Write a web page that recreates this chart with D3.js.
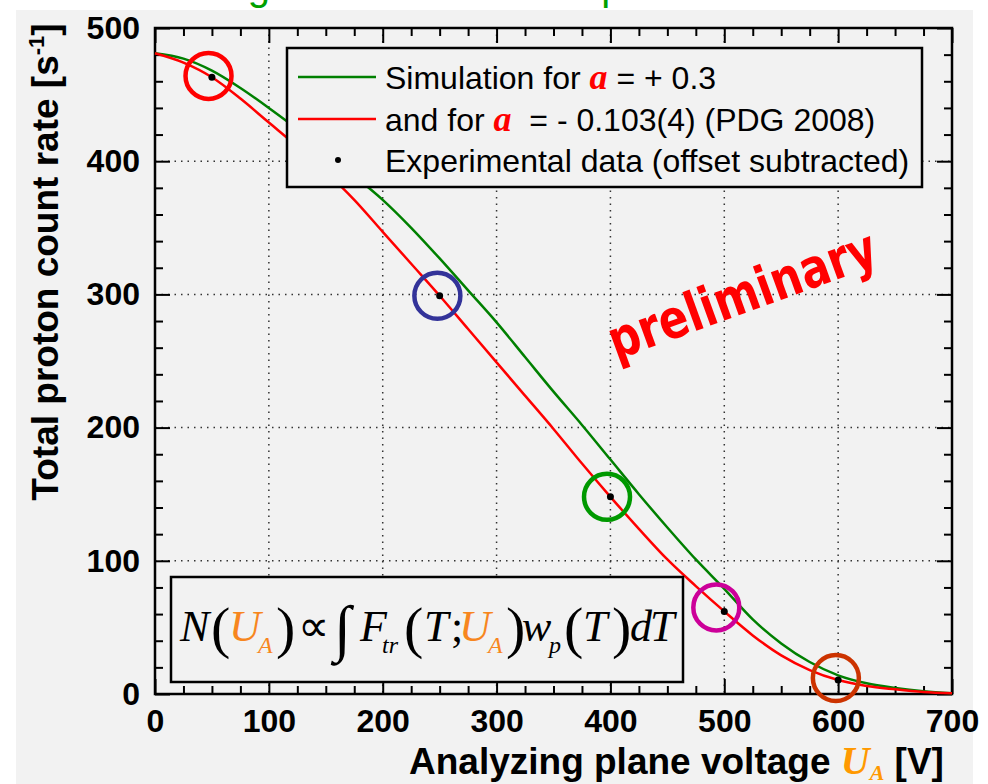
<!DOCTYPE html>
<html><head><meta charset="utf-8">
<script src="https://cdn.jsdelivr.net/npm/d3@7"></script>
<style>
html,body{margin:0;padding:0;background:#fff;}
text{white-space:pre;}
</style></head>
<body>
<svg id="chart" width="988" height="784"></svg>
<script>
// ---- data ----
const voltage = [0,25,50,75,100,125,150,175,200,225,250,275,300,325,350,375,400,425,450,475,500,525,550,575,600,625,650,675,700];
const simPlus03 = [481,477,468,455,440,424,406,389,371,350,327,303,279,253,227,202,176,150,125,101,79,56,38,24,14,8,4.5,2,0.5];
const simPDG = [481,474,463,447,429,411,392,371,347,323,299,274,249,224,199,173,148,124,101,81,62,44,29,18,10.5,6,3.5,1.5,0.5];
const dataU = [50,250,400,500,600];
const dataRate = [463,299,148,62,10.5];
const markU = [47,248,397,493,598];
const markRate = [464,299,148,65,12];
const markColors = ["#ff0000","#333399","#009900","#cc0099","#cc3300"];
const xTickValues = [0,100,200,300,400,500,600,700];
const yTickValues = [0,100,200,300,400,500];
const legendLabels = ["Simulation for ", "and for ", "Experimental data (offset subtracted)"];
const legendSuffix = [" = + 0.3", "  = - 0.103(4) (PDG 2008)", ""];

const svg = d3.select("#chart");
const L = 155, R = 952, T = 28, B = 694;
const x = d3.scaleLinear().domain([0,700]).range([L,R]);
const y = d3.scaleLinear().domain([0,500]).range([B,T]);

// title remnant (only the descenders show above the panel)
svg.append("text").attr("x",181).attr("y",0)
  .attr("font-family","Liberation Sans, Arial, sans-serif").attr("font-size",40)
  .attr("fill","#00a000").text("Integral measurement spectrum");

svg.append("rect").attr("x",16).attr("y",10).attr("width",957).attr("height",774).attr("fill","#f2f2f2");

// grid
const grid = svg.append("g").attr("stroke","#333").attr("stroke-width",1.5).attr("stroke-dasharray","1.5,5");
grid.selectAll("line.v").data(xTickValues.filter(d=>d>0&&d<700)).join("line")
  .attr("x1",d=>x(d)).attr("x2",d=>x(d)).attr("y1",T).attr("y2",B);
grid.selectAll("line.h").data(yTickValues.filter(d=>d>0&&d<500)).join("line")
  .attr("x1",L).attr("x2",R).attr("y1",d=>y(d)).attr("y2",d=>y(d));

// axes
const minorX = d3.range(0,701,25).filter(d=>d%100!==0);
const minorY = d3.range(0,501,20).filter(d=>d%100!==0);
function styleAxis(g){ g.selectAll(".domain").remove(); g.selectAll("line").attr("stroke","#000").attr("stroke-width",2); }
const fontT = "Liberation Sans, Arial, sans-serif";

svg.append("g").attr("transform",`translate(0,${B})`)
  .call(d3.axisBottom(x).tickValues(xTickValues).tickSize(-15).tickPadding(15).tickFormat(d3.format("d")))
  .call(styleAxis)
  .call(g=>g.selectAll("text").attr("font-family",fontT).attr("font-size",32).attr("font-weight","bold").attr("fill","#000"));
svg.append("g").attr("transform",`translate(0,${B})`).call(d3.axisBottom(x).tickValues(minorX).tickSize(-8).tickFormat("")).call(styleAxis);
svg.append("g").attr("transform",`translate(0,${T})`).call(d3.axisTop(x).tickValues(xTickValues).tickSize(-15).tickFormat("")).call(styleAxis);
svg.append("g").attr("transform",`translate(0,${T})`).call(d3.axisTop(x).tickValues(minorX).tickSize(-8).tickFormat("")).call(styleAxis);

svg.append("g").attr("transform",`translate(${L},0)`)
  .call(d3.axisLeft(y).tickValues(yTickValues).tickSize(-15).tickPadding(15).tickFormat(d3.format("d")))
  .call(styleAxis)
  .call(g=>g.selectAll("text").attr("font-family",fontT).attr("font-size",32).attr("font-weight","bold").attr("fill","#000"));
svg.append("g").attr("transform",`translate(${L},0)`).call(d3.axisLeft(y).tickValues(minorY).tickSize(-8).tickFormat("")).call(styleAxis);
svg.append("g").attr("transform",`translate(${R},0)`).call(d3.axisRight(y).tickValues(yTickValues).tickSize(-15).tickFormat("")).call(styleAxis);
svg.append("g").attr("transform",`translate(${R},0)`).call(d3.axisRight(y).tickValues(minorY).tickSize(-8).tickFormat("")).call(styleAxis);

// frame
svg.append("rect").attr("x",L).attr("y",T).attr("width",R-L).attr("height",B-T)
  .attr("fill","none").attr("stroke","#000").attr("stroke-width",2.5);

// curves
const line = d3.line().x((d,i)=>x(voltage[i])).y(d=>y(d)).curve(d3.curveMonotoneX);
svg.append("path").attr("d",line(simPlus03)).attr("fill","none").attr("stroke","#008000").attr("stroke-width",2.5);
svg.append("path").attr("d",line(simPDG)).attr("fill","none").attr("stroke","#ff0000").attr("stroke-width",2.5);

// markers
svg.selectAll("circle.mk").data(markU).join("circle")
  .attr("cx",d=>x(d)).attr("cy",(d,i)=>y(markRate[i])).attr("r",23)
  .attr("fill","none").attr("stroke",(d,i)=>markColors[i]).attr("stroke-width",4.5);
svg.selectAll("circle.pt").data(dataU).join("circle")
  .attr("cx",d=>x(d)).attr("cy",(d,i)=>y(dataRate[i])).attr("r",3.5).attr("fill","#000");

// preliminary
svg.append("text").attr("transform","translate(616,360) rotate(-20)")
  .attr("font-family","DejaVu Sans, sans-serif").attr("font-weight","bold").attr("font-size",54)
  .attr("fill","#ff0000").attr("textLength",282).attr("lengthAdjust","spacingAndGlyphs").text("preliminary");

// legend
svg.append("rect").attr("x",287).attr("y",48).attr("width",635).attr("height",139)
  .attr("fill","#f2f2f2").attr("stroke","#000").attr("stroke-width",2.5);
const rowY = [77,119,160];
svg.append("line").attr("x1",298).attr("x2",376).attr("y1",rowY[0]).attr("y2",rowY[0]).attr("stroke","#008000").attr("stroke-width",2.5);
svg.append("line").attr("x1",298).attr("x2",376).attr("y1",rowY[1]).attr("y2",rowY[1]).attr("stroke","#ff0000").attr("stroke-width",2.5);
svg.append("circle").attr("cx",338).attr("cy",rowY[2]).attr("r",3).attr("fill","#000");
legendLabels.forEach((lab,i)=>{
  const t = svg.append("text").attr("x",385).attr("y",rowY[i]+12)
    .attr("font-family",fontT).attr("font-size",32).attr("fill","#000");
  t.append("tspan").text(lab);
  if(i<2){
    t.append("tspan").attr("font-family","Liberation Serif, Times New Roman, serif").attr("font-style","italic")
      .attr("font-weight","bold").attr("font-size",36).attr("fill","#ff0000").text("a");
    t.append("tspan").text(legendSuffix[i]);
  }
});

// formula box
svg.append("rect").attr("x",171).attr("y",577).attr("width",512).attr("height",105)
  .attr("fill","#f2f2f2").attr("stroke","#000").attr("stroke-width",2.5);
const orange = "#f7861e";
const fb = 641;
const pieces = [
  ["N",180,0,44,"italic","#000"],["(",211,6,58,"normal","#000"],["U",229,0,44,"italic",orange],["A",258,12,24,"italic",orange],
  [")",276,6,58,"normal","#000"],["\u221D",298,0,44,"normal","#000"],["\u222B",334,8,62,"normal","#000"],
  ["F",360,0,44,"italic","#000"],["tr",382,12,24,"italic","#000"],["(",404,6,58,"normal","#000"],["T",424,0,44,"italic","#000"],
  [";",451,0,44,"normal","#000"],["U",459,0,44,"italic",orange],["A",488,12,24,"italic",orange],[")",506,6,58,"normal","#000"],
  ["w",522,0,44,"italic","#000"],["p",549,12,24,"italic","#000"],["(",564,6,58,"normal","#000"],["T",583,0,44,"italic","#000"],
  [")",612,6,58,"normal","#000"],["d",630,0,44,"italic","#000"],["T",650,0,44,"italic","#000"]
];
const ft = svg.append("g").attr("font-family","Liberation Serif, Times New Roman, serif");
pieces.forEach(p=>{
  ft.append("text").attr("x",p[1]).attr("y",fb+p[2]).attr("font-size",p[3]).attr("font-style",p[4]).attr("fill",p[5]).text(p[0]);
});

// axis titles
const yt = svg.append("text").attr("transform","translate(58,262) rotate(-90)").attr("text-anchor","middle")
  .attr("font-family",fontT).attr("font-size",37).attr("font-weight","bold").attr("fill","#000");
yt.append("tspan").text("Total proton count rate [s");
yt.append("tspan").attr("font-size",22).attr("dy",-14).text("-1");
yt.append("tspan").attr("dy",14).text("]");

const xt = svg.append("text").attr("x",409).attr("y",774)
  .attr("font-family",fontT).attr("font-size",37).attr("font-weight","bold").attr("fill","#000");
xt.append("tspan").text("Analyzing plane voltage ");
xt.append("tspan").attr("font-family","Liberation Serif, Times New Roman, serif").attr("font-style","italic").attr("font-weight","bold").attr("fill","#ff9900").attr("font-size",40).text("U");
xt.append("tspan").attr("font-family","Liberation Serif, Times New Roman, serif").attr("font-style","italic").attr("fill","#ff9900").attr("font-size",22).attr("dy",6).text("A");
xt.append("tspan").attr("dy",-6).text(" [V]");
</script>
</body></html>
